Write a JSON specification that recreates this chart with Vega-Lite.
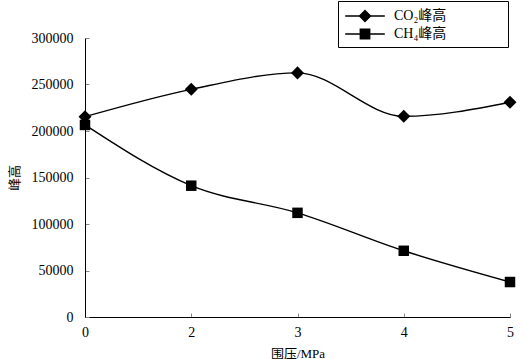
{
  "$schema": "https://vega.github.io/schema/vega-lite/v6.json",
  "autosize": "none",
  "padding": {"left": 85, "top": 38, "right": 3, "bottom": 42},
  "width": 437,
  "height": 279,
  "background": "white",
  "config": {
    "view": {"stroke": null},
    "font": "Liberation Serif, Noto Sans CJK SC",
    "axis": {"grid": false, "domainColor": "black", "tickColor": "#888888", "labelColor": "black", "titleColor": "black", "labelFont": "Liberation Serif", "labelFontSize": 14, "titleFont": "Liberation Serif, Noto Sans CJK SC", "titleFontWeight": "normal", "titleFontSize": 13}
  },
  "data": {"values": [
    {"pressure": 0, "series": "CO₂峰高", "value": 215400},
    {"pressure": 2, "series": "CO₂峰高", "value": 244800},
    {"pressure": 3, "series": "CO₂峰高", "value": 262500},
    {"pressure": 4, "series": "CO₂峰高", "value": 215800},
    {"pressure": 5, "series": "CO₂峰高", "value": 231000},
    {"pressure": 0, "series": "CH₄峰高", "value": 206500},
    {"pressure": 2, "series": "CH₄峰高", "value": 141200},
    {"pressure": 3, "series": "CH₄峰高", "value": 112000},
    {"pressure": 4, "series": "CH₄峰高", "value": 71200},
    {"pressure": 5, "series": "CH₄峰高", "value": 37600}
  ]},
  "encoding": {
    "x": {"field": "pressure", "type": "ordinal", "scale": {"type": "point", "padding": 0, "range": [0, 425]},
      "axis": {"title": "围压/MPa", "labelAngle": 0, "tickSize": -4, "labelPadding": 12, "titlePadding": 8}},
    "y": {"field": "value", "type": "quantitative", "scale": {"domain": [0, 300000]},
      "axis": {"title": "峰高", "values": [0, 50000, 100000, 150000, 200000, 250000, 300000], "format": "d", "tickSize": -4, "labelPadding": 16, "titlePadding": 10}}
  },
  "layer": [
    {"mark": {"type": "line", "interpolate": "monotone", "color": "black", "strokeWidth": 1.4},
     "encoding": {"detail": {"field": "series"}}},
    {"transform": [{"filter": "datum.series === 'CO₂峰高'"}],
     "mark": {"type": "point", "filled": true, "color": "black", "opacity": 1, "shape": "diamond", "size": 170}},
    {"transform": [{"filter": "datum.series === 'CH₄峰高'"}],
     "mark": {"type": "point", "filled": true, "color": "black", "opacity": 1, "shape": "square", "size": 110}},
    {"mark": {"type": "point", "filled": true, "color": "black", "opacity": 0},
     "encoding": {"shape": {"field": "series", "type": "nominal", "scale": {"domain": ["CO₂峰高", "CH₄峰高"], "range": ["M-2.2,-0.08L2.2,-0.08L2.2,0.08L0.6,0.08L0,0.72L-0.6,0.08L-2.2,0.08Z M-0.72,0L0,-0.72L0.72,0L0,0.72Z", "M-2.2,-0.08L2.2,-0.08L2.2,0.08L-2.2,0.08Z M-0.6,-0.6L0.6,-0.6L0.6,0.6L-0.6,0.6Z"]},
       "legend": {"title": null, "orient": "none", "legendX": 253, "legendY": -37, "strokeColor": "black", "fillColor": "white", "padding": 6, "symbolSize": 324, "symbolOffset": 12, "labelOffset": 20, "labelFont": "Liberation Serif, Noto Sans CJK SC", "labelFontSize": 14, "labelColor": "black", "rowPadding": 2, "labelLimit": 300, "symbolOpacity": 1, "symbolFillColor": "black", "symbolStrokeColor": "black", "symbolStrokeWidth": 0,
         "labelExpr": "datum.label + '\u00a0\u00a0\u00a0\u00a0\u00a0\u00a0\u00a0\u00a0\u00a0\u00a0\u00a0\u00a0\u00a0\u2800'"}}}}
  ]
}
